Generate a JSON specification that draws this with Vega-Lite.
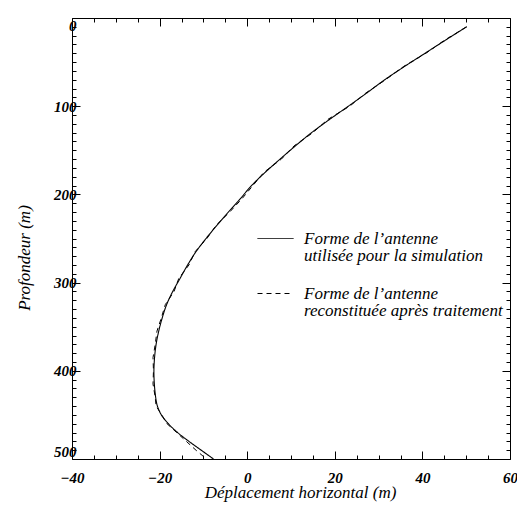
{
  "$schema": "https://vega.github.io/schema/vega-lite/v6.json",
  "width": 438,
  "height": 441,
  "autosize": {"type": "none"},
  "padding": {"left": 72, "top": 18, "right": 7, "bottom": 51},
  "background": "white",
  "config": {
    "view": {"stroke": null},
    "axis": {
      "grid": false,
      "domainColor": "black",
      "domainWidth": 1,
      "tickColor": "black",
      "tickWidth": 1,
      "labelColor": "black",
      "labelFont": "Liberation Sans Narrow",
      "labelFontSize": 15,
      "labelFontStyle": "italic",
      "labelFontWeight": "bold",
      "labelOverlap": false,
      "labelBound": false,
      "titleFont": "Liberation Serif",
      "titleFontSize": 17,
      "titleFontStyle": "italic",
      "titleFontWeight": "normal",
      "titleColor": "black"
    }
  },
  "data": {
    "values": [
      {"series": "sim", "x": 50.1, "depth": 10},
      {"series": "sim", "x": 45.3, "depth": 25},
      {"series": "sim", "x": 40.6, "depth": 40},
      {"series": "sim", "x": 35.9, "depth": 55},
      {"series": "sim", "x": 31.4, "depth": 70},
      {"series": "sim", "x": 27.3, "depth": 85},
      {"series": "sim", "x": 23.1, "depth": 100},
      {"series": "sim", "x": 18.8, "depth": 115},
      {"series": "sim", "x": 14.7, "depth": 130},
      {"series": "sim", "x": 11.0, "depth": 145},
      {"series": "sim", "x": 7.5, "depth": 160},
      {"series": "sim", "x": 4.1, "depth": 175},
      {"series": "sim", "x": 1.0, "depth": 190},
      {"series": "sim", "x": -1.6, "depth": 205},
      {"series": "sim", "x": -4.3, "depth": 220},
      {"series": "sim", "x": -6.9, "depth": 235},
      {"series": "sim", "x": -9.4, "depth": 250},
      {"series": "sim", "x": -11.7, "depth": 265},
      {"series": "sim", "x": -13.6, "depth": 280},
      {"series": "sim", "x": -15.3, "depth": 295},
      {"series": "sim", "x": -17.0, "depth": 310},
      {"series": "sim", "x": -18.4, "depth": 325},
      {"series": "sim", "x": -19.4, "depth": 340},
      {"series": "sim", "x": -20.2, "depth": 355},
      {"series": "sim", "x": -20.8, "depth": 370},
      {"series": "sim", "x": -21.15, "depth": 385},
      {"series": "sim", "x": -21.3, "depth": 400},
      {"series": "sim", "x": -21.2, "depth": 415},
      {"series": "sim", "x": -20.9, "depth": 430},
      {"series": "sim", "x": -20.5, "depth": 440},
      {"series": "sim", "x": -19.6, "depth": 450},
      {"series": "sim", "x": -18.0, "depth": 460},
      {"series": "sim", "x": -15.9, "depth": 470},
      {"series": "sim", "x": -13.3, "depth": 480},
      {"series": "sim", "x": -10.5, "depth": 490},
      {"series": "sim", "x": -7.7, "depth": 500},
      {"series": "rec", "x": 50.1, "depth": 10},
      {"series": "rec", "x": 45.1, "depth": 25},
      {"series": "rec", "x": 40.8, "depth": 40},
      {"series": "rec", "x": 35.7, "depth": 55},
      {"series": "rec", "x": 31.6, "depth": 70},
      {"series": "rec", "x": 27.1, "depth": 85},
      {"series": "rec", "x": 23.4, "depth": 100},
      {"series": "rec", "x": 18.4, "depth": 115},
      {"series": "rec", "x": 15.0, "depth": 130},
      {"series": "rec", "x": 10.7, "depth": 145},
      {"series": "rec", "x": 7.8, "depth": 160},
      {"series": "rec", "x": 3.8, "depth": 175},
      {"series": "rec", "x": 1.3, "depth": 190},
      {"series": "rec", "x": -1.2, "depth": 205},
      {"series": "rec", "x": -4.0, "depth": 220},
      {"series": "rec", "x": -7.1, "depth": 235},
      {"series": "rec", "x": -9.2, "depth": 250},
      {"series": "rec", "x": -11.9, "depth": 265},
      {"series": "rec", "x": -13.3, "depth": 280},
      {"series": "rec", "x": -15.6, "depth": 295},
      {"series": "rec", "x": -16.7, "depth": 310},
      {"series": "rec", "x": -18.7, "depth": 325},
      {"series": "rec", "x": -19.6, "depth": 340},
      {"series": "rec", "x": -20.6, "depth": 355},
      {"series": "rec", "x": -21.0, "depth": 370},
      {"series": "rec", "x": -21.5, "depth": 385},
      {"series": "rec", "x": -21.4, "depth": 400},
      {"series": "rec", "x": -21.5, "depth": 415},
      {"series": "rec", "x": -21.0, "depth": 430},
      {"series": "rec", "x": -20.8, "depth": 440},
      {"series": "rec", "x": -19.5, "depth": 450},
      {"series": "rec", "x": -18.3, "depth": 460},
      {"series": "rec", "x": -16.1, "depth": 470},
      {"series": "rec", "x": -13.9, "depth": 480},
      {"series": "rec", "x": -11.7, "depth": 490},
      {"series": "rec", "x": -9.3, "depth": 500}
    ]
  },
  "layer": [
    {
      "transform": [{"filter": "datum.series === 'sim'"}],
      "mark": {"type": "line", "color": "black", "strokeWidth": 1.1, "interpolate": "catmull-rom"},
      "encoding": {
        "x": {
          "field": "x",
          "type": "quantitative",
          "scale": {"domain": [-40, 60], "nice": false, "zero": false},
          "axis": {
            "orient": "bottom",
            "values": [-40, -35, -30, -25, -20, -15, -10, -5, 0, 5, 10, 15, 20, 25, 30, 35, 40, 45, 50, 55, 60],
            "labelExpr": "datum.value % 20 === 0 ? datum.label : ''",
            "tickSize": {"condition": {"test": "datum.value % 20 === 0", "value": -8}, "value": -4},
            "labelPadding": 19,
            "labelFlush": false,
            "title": "Déplacement horizontal (m)",
            "titleX": 228,
            "titleY": 38,
            "titleBaseline": "alphabetic",
            "titleAlign": "center",
            "titleAnchor": null
          }
        },
        "y": {
          "field": "depth",
          "type": "quantitative",
          "scale": {"domain": [0, 500], "reverse": true, "nice": false, "zero": false},
          "axis": {
            "orient": "left",
            "values": [0, 10, 20, 30, 40, 50, 60, 70, 80, 90, 100, 110, 120, 130, 140, 150, 160, 170, 180, 190, 200, 210, 220, 230, 240, 250, 260, 270, 280, 290, 300, 310, 320, 330, 340, 350, 360, 370, 380, 390, 400, 410, 420, 430, 440, 450, 460, 470, 480, 490, 500],
            "labelExpr": "datum.value % 100 === 0 ? datum.label : ''",
            "tickSize": {"condition": {"test": "datum.value % 100 === 0", "value": -8}, "value": -4},
            "labelPadding": 4,
            "labelFlush": true,
            "labelFlushOffset": 0,
            "title": "Profondeur (m)",
            "titleX": -43,
            "titleY": 239.5,
            "titleAngle": -90,
            "titleBaseline": "alphabetic",
            "titleAlign": "center",
            "titleAnchor": null
          }
        },
        "strokeDash": {
          "field": "series",
          "type": "nominal",
          "scale": {"domain": ["sim", "rec"], "range": [[1, 0], [5, 4]]},
          "legend": {
            "title": null,
            "orient": "none",
            "legendX": 185,
            "legendY": 202,
            "padding": 0,
            "symbolType": "stroke",
            "symbolSize": 1296,
            "symbolStrokeColor": "black",
            "symbolStrokeWidth": 1,
            "labelFont": "Liberation Serif",
            "labelFontSize": 17,
            "labelFontStyle": "italic",
            "labelColor": "black",
            "labelLimit": 400,
            "labelOffset": 10,
            "labelBaseline": "top",
            "rowPadding": 11,
            "labelExpr": "datum.value === 'sim' ? ['Forme de l’antenne', 'utilisée pour la simulation'] : ['Forme de l’antenne', 'reconstituée après traitement']",
            "encoding": {"labels": {"dy": {"value": -8}, "lineHeight": {"value": 17}}}
          }
        },
        "order": {"field": "depth", "type": "quantitative"}
      }
    },
    {
      "transform": [{"filter": "datum.series === 'rec'"}],
      "mark": {"type": "line", "color": "black", "strokeWidth": 1},
      "encoding": {
        "x": {
          "field": "x",
          "type": "quantitative",
          "axis": {
            "orient": "top",
            "values": [-40, -35, -30, -25, -20, -15, -10, -5, 0, 5, 10, 15, 20, 25, 30, 35, 40, 45, 50, 55, 60],
            "labels": false,
            "tickSize": {"condition": {"test": "datum.value % 20 === 0", "value": -8}, "value": -4},
            "title": null
          }
        },
        "y": {
          "field": "depth",
          "type": "quantitative",
          "axis": {
            "orient": "right",
            "values": [0, 10, 20, 30, 40, 50, 60, 70, 80, 90, 100, 110, 120, 130, 140, 150, 160, 170, 180, 190, 200, 210, 220, 230, 240, 250, 260, 270, 280, 290, 300, 310, 320, 330, 340, 350, 360, 370, 380, 390, 400, 410, 420, 430, 440, 450, 460, 470, 480, 490, 500],
            "labels": false,
            "tickSize": {"condition": {"test": "datum.value % 100 === 0", "value": -8}, "value": -4},
            "title": null
          }
        },
        "strokeDash": {"field": "series", "type": "nominal"},
        "order": {"field": "depth", "type": "quantitative"}
      }
    }
  ],
  "resolve": {"axis": {"x": "independent", "y": "independent"}}
}
